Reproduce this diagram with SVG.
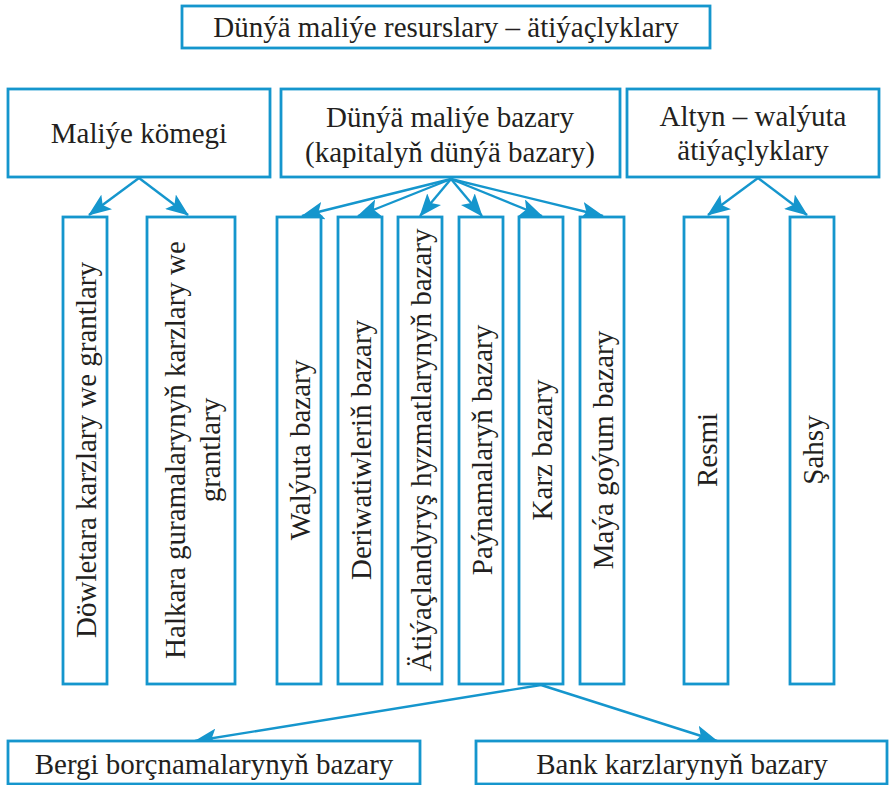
<svg xmlns="http://www.w3.org/2000/svg" width="889" height="785" viewBox="0 0 889 785">
<style>
.box{fill:#fff;stroke:#1596cd;stroke-width:2.8}
.t{font-family:'Liberation Serif','DejaVu Serif',serif;font-size:29px;fill:#231f20;text-anchor:middle}
.c{stroke:#1596cd;stroke-width:2.4;fill:none}
</style>
<defs>
<marker id="ah" markerUnits="userSpaceOnUse" markerWidth="24" markerHeight="18" viewBox="0 0 24 18" refX="22" refY="9" orient="auto">
<path d="M0,0 L23,9 L0,18 L5,9 Z" fill="#1596cd"/>
</marker>
</defs>
<rect width="889" height="785" fill="#fff"/>
<g id="connectors">
<line class="c" x1="139" y1="178" x2="89" y2="215" marker-end="url(#ah)"/>
<line class="c" x1="139" y1="178" x2="188" y2="215" marker-end="url(#ah)"/>
<line class="c" x1="451" y1="179" x2="302" y2="216" marker-end="url(#ah)"/>
<line class="c" x1="451" y1="179" x2="358" y2="216" marker-end="url(#ah)"/>
<line class="c" x1="451" y1="179" x2="420" y2="216" marker-end="url(#ah)"/>
<line class="c" x1="451" y1="179" x2="482" y2="216" marker-end="url(#ah)"/>
<line class="c" x1="451" y1="179" x2="542" y2="216" marker-end="url(#ah)"/>
<line class="c" x1="451" y1="179" x2="603" y2="216" marker-end="url(#ah)"/>
<line class="c" x1="758" y1="178" x2="708" y2="215" marker-end="url(#ah)"/>
<line class="c" x1="758" y1="178" x2="807" y2="215" marker-end="url(#ah)"/>
<line class="c" x1="541" y1="685" x2="195" y2="741" marker-end="url(#ah)"/>
<line class="c" x1="541" y1="685" x2="717" y2="741" marker-end="url(#ah)"/>
</g>
<g id="title"><rect class="box" x="182" y="6" width="528" height="42"/><text class="t" x="446" y="37">Dünýä maliýe resurslary – ätiýaçlyklary</text></g>
<g id="malie"><rect class="box" x="8" y="89" width="262" height="88"/><text class="t" x="139" y="143">Maliýe kömegi</text></g>
<g id="bazar"><rect class="box" x="281" y="89" width="339" height="88"/><text class="t" x="450" y="127">Dünýä maliýe bazary</text><text class="t" x="450" y="162">(kapitalyň dünýä bazary)</text></g>
<g id="altyn"><rect class="box" x="627" y="89" width="252" height="88"/><text class="t" x="753" y="126">Altyn – walýuta</text><text class="t" x="753" y="160">ätiýaçlyklary</text></g>
<g id="dowletara"><rect class="box" x="63" y="217" width="44" height="467"/><text class="t" transform="translate(96,450) rotate(-90)">Döwletara karzlary we grantlary</text></g>
<g id="halkara"><rect class="box" x="147" y="217" width="88" height="467"/><text class="t" transform="translate(185,450) rotate(-90)">Halkara guramalarynyň karzlary we</text><text class="t" transform="translate(220,450) rotate(-90)">grantlary</text></g>
<g id="walyuta"><rect class="box" x="277" y="217" width="44" height="467"/><text class="t" transform="translate(310,450) rotate(-90)">Walýuta bazary</text></g>
<g id="deriwatiw"><rect class="box" x="338" y="217" width="44" height="467"/><text class="t" transform="translate(371,450) rotate(-90)">Deriwatiwleriň bazary</text></g>
<g id="atiyaclandyrys"><rect class="box" x="398" y="217" width="44" height="467"/><text class="t" transform="translate(431,450) rotate(-90)">Ätiýaçlandyryş hyzmatlarynyň bazary</text></g>
<g id="paynamalar"><rect class="box" x="459" y="217" width="44" height="467"/><text class="t" transform="translate(492,450) rotate(-90)">Paýnamalaryň bazary</text></g>
<g id="karz"><rect class="box" x="519" y="217" width="44" height="467"/><text class="t" transform="translate(552,450) rotate(-90)">Karz bazary</text></g>
<g id="mayagoyum"><rect class="box" x="580" y="217" width="44" height="467"/><text class="t" transform="translate(613,450) rotate(-90)">Maýa goýum bazary</text></g>
<g id="resmi"><rect class="box" x="684" y="217" width="44" height="467"/><text class="t" transform="translate(717,450) rotate(-90)">Resmi</text></g>
<g id="sahsy"><rect class="box" x="790" y="217" width="44" height="467"/><text class="t" transform="translate(823,450) rotate(-90)">Şahsy</text></g>
<g id="bergi"><rect class="box" x="8" y="741" width="412" height="43"/><text class="t" x="214" y="774">Bergi borçnamalarynyň bazary</text></g>
<g id="bank"><rect class="box" x="476" y="741" width="411" height="43"/><text class="t" x="682" y="774">Bank karzlarynyň bazary</text></g>
</svg>
